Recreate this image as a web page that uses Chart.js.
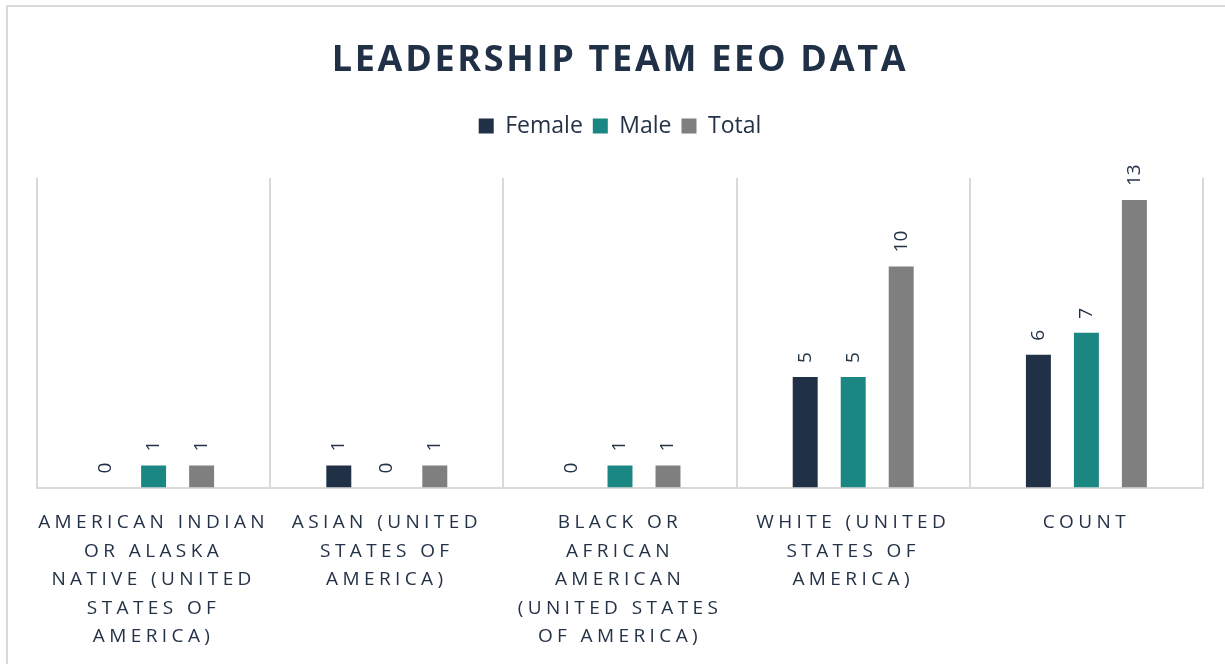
<!DOCTYPE html>
<html>
<head>
<meta charset="utf-8">
<script src="https://cdn.jsdelivr.net/npm/chart.js@4.4.1/dist/chart.umd.min.js"></script>
<style>
  html, body { margin: 0; padding: 0; background: #fff; }
  #wrap { position: relative; width: 1225px; height: 664px; overflow: hidden; }
  #frame { position: absolute; left: 6px; top: 5px; width: 1300px; height: 800px; border: 2px solid #d9d9d9; }
  canvas { position: absolute; left: 0; top: 0; }
</style>
</head>
<body>
<div id="wrap">
  <div id="frame"></div>
  <canvas id="chart" width="1225" height="664"></canvas>
</div>
<script>
// categories (multi-line, as wrapped under the axis)
const categories = [
    ['AMERICAN INDIAN', 'OR ALASKA', 'NATIVE (UNITED', 'STATES OF', 'AMERICA)'],
    ['ASIAN (UNITED', 'STATES OF', 'AMERICA)'],
    ['BLACK OR', 'AFRICAN', 'AMERICAN', '(UNITED STATES', 'OF AMERICA)'],
    ['WHITE (UNITED', 'STATES OF', 'AMERICA)'],
    ['COUNT']
];
const femaleValues = [0, 1, 0, 5, 6];
const maleValues = [1, 0, 1, 5, 7];
const totalValues = [1, 1, 1, 10, 13];

const FONT = '"Open Sans", sans-serif';
const TEXT_COLOR = '#243247';

// canvas letterSpacing only around a single draw call
function withSpacing(target, method, spacing) {
    const original = target[method];
    target[method] = function (...args) {
        const ctx = this.ctx;
        const before = ctx.letterSpacing;
        ctx.letterSpacing = spacing;
        original.apply(this, args);
        ctx.letterSpacing = before;
    };
}

const spacedText = {
    id: 'spacedText',
    beforeDraw(chart) {
        if (chart.$spaced) return;
        chart.$spaced = true;
        withSpacing(chart.titleBlock, 'draw', '2.7px');
        withSpacing(chart.scales.x, 'drawLabels', '4.4px');
    }
};

// rotated value labels above each bar
const barValueLabels = {
    id: 'barValueLabels',
    afterDatasetsDraw(chart) {
        const ctx = chart.ctx;
        ctx.save();
        ctx.font = '19px ' + FONT;
        ctx.fillStyle = TEXT_COLOR;
        ctx.textAlign = 'left';
        ctx.textBaseline = 'middle';
        chart.data.datasets.forEach((ds, i) => {
            chart.getDatasetMeta(i).data.forEach((bar, j) => {
                ctx.save();
                ctx.translate(bar.x, bar.y - 14);
                ctx.rotate(-Math.PI / 2);
                ctx.fillText(String(ds.data[j]), 0, 0);
                ctx.restore();
            });
        });
        ctx.restore();
    }
};

new Chart(document.getElementById('chart').getContext('2d'), {
    type: 'bar',
    data: {
        labels: categories,
        datasets: [
            { label: 'Female', data: femaleValues, backgroundColor: '#203046' },
            { label: 'Male', data: maleValues, backgroundColor: '#1a8783' },
            { label: 'Total', data: totalValues, backgroundColor: '#7f7f7f' }
        ]
    },
    options: {
        responsive: false,
        animation: false,
        categoryPercentage: 0.6175,
        barPercentage: 0.52,
        layout: { padding: { left: 37, right: 22, top: 10, bottom: -8 } },
        plugins: {
            title: {
                display: true,
                text: 'LEADERSHIP TEAM EEO DATA',
                color: '#203046',
                font: { family: FONT, size: 36, weight: 'bold', lineHeight: 1.2 },
                padding: { top: 29.4, bottom: 21.9 }
            },
            // empty subtitle used as the gap between legend and plot
            subtitle: {
                display: true,
                text: '',
                weight: 500,
                padding: 0,
                font: { size: 30.5, lineHeight: 1 }
            },
            legend: {
                labels: {
                    boxWidth: 15,
                    boxHeight: 15,
                    color: TEXT_COLOR,
                    padding: 10,
                    font: { family: FONT, size: 23 }
                }
            },
            tooltip: { enabled: false }
        },
        scales: {
            x: {
                grid: { display: true, offset: true, drawTicks: false, color: '#d9d9d9', lineWidth: 2 },
                border: { color: '#d9d9d9', width: 2 },
                ticks: {
                    color: TEXT_COLOR,
                    font: { family: FONT, size: 19, lineHeight: 1.5 },
                    padding: 21,
                    maxRotation: 0,
                    autoSkip: false
                }
            },
            y: { display: false, min: 0, max: 14 }
        }
    },
    plugins: [spacedText, barValueLabels]
});
</script>
</body>
</html>
